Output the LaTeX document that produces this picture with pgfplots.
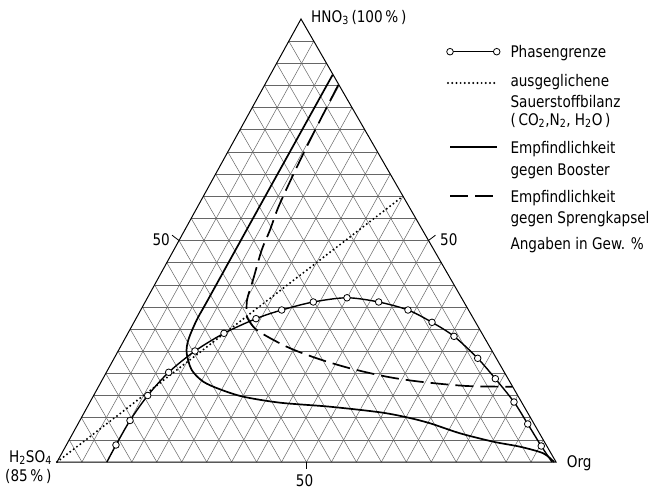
\documentclass[border=0pt]{standalone}
\usepackage{pgfplots}
\usepackage{pgfplotstable}
\pgfplotsset{compat=1.18}
\usepackage{fontspec}
\setmainfont{DejaVu Sans}[FakeStretch=0.85]

% ternary data: o = Org %, h = HNO3 %, H2SO4 = rest
\pgfplotstableread{
o h
10.0 0
9.94 3.84
10.05 9.37
10.84 15.01
12.48 20.25
15.4 25.06
19.26 29.05
24.06 32.35
28.25 34.31
33.7 36.12
39.99 37.07
46.8 36.12
53.56 34.31
59.73 31.53
65.69 28.37
72.86 23.41
78.65 18.80
84.96 13.54
90.14 8.58
95.28 3.61
99.2 0
}\phase

\pgfplotstableread{
o h
12.5 87.4
12.4 60
12.34 36.6
12.32 32.05
12.85 27.54
13.99 24.54
16.84 20.77
20.45 18.13
24.64 16.41
30.13 14.74
38.14 13.39
48.61 12.48
59.24 11.22
65.15 10.09
70.48 8.74
77.59 6.48
85.19 4.58
91.1 3.45
96.49 1.96
99.6 0
}\booster

\pgfplotstableread{
o h
14.75 85.1
15.24 71.17
16.13 58.4
17.08 52.37
17.62 47.86
19.19 41.08
20.2 36.57
21.98 32.8
}\kapselA

\pgfplotstableread{
o h
21.98 32.8
25.45 29.8
33.3 26.03
40.6 23.41
48.38 21.15
56.65 19.26
63.89 18.13
73.7 17.16
82.97 17.0
}\kapselB

\pgfplotstableread{
o h
0 0
40 60
}\sauerstoff

% ternary -> cartesian (apex slightly left of the base middle, as in the scan)
\def\tx{\thisrow{o}+0.489*\thisrow{h}}

\begin{document}
\begin{tikzpicture}[font=\fontsize{16}{19}\selectfont]
  \tikzset{
    gridl/.style={black!60, line width=0.5pt},
    dotl/.style={line width=2.2pt, line cap=round, dash pattern=on 0pt off 4.2pt},
    dashl/.style={line width=1.7pt, dash pattern=on 18pt off 7pt},
  }

  \begin{axis}[scale only axis, width=655pt, height=490pt,
               xmin=-11.423, xmax=119.84, ymin=-6.321, ymax=104.29,
               hide axis, clip=false]

    % GRID (every 5 %)
    \pgfplotsinvokeforeach{5,10,...,95}{
      \draw[gridl] (axis cs:{0.489*#1},#1) -- (axis cs:{100-#1+0.489*#1},#1);
      \draw[gridl] (axis cs:#1,0) -- (axis cs:{#1+0.489*(100-#1)},{100-#1});
      \draw[gridl] (axis cs:{100-#1},0) -- (axis cs:{0.489*(100-#1)},{100-#1});
    }
    \draw[line width=1pt] (axis cs:0,0) -- (axis cs:100,0) -- (axis cs:48.9,100) -- cycle;

    % ticks at 50
    \draw[line width=0.8pt] (axis cs:50,0) -- (axis cs:50,-1.6);
    \draw[line width=0.8pt] (axis cs:74.45,50) -- (axis cs:75.85,51.2);
    \draw[line width=0.8pt] (axis cs:24.45,50) -- (axis cs:23.05,51.2);

    % CURVES
    \addplot[dotl] table[x expr=\tx, y=h] {\sauerstoff};
    \addplot[line width=1.7pt, smooth] table[x expr=\tx, y=h] {\booster};
    \addplot[dashl, smooth] table[x expr=\tx, y=h] {\kapselA};
    \addplot[dashl, smooth] table[x expr=\tx, y=h] {\kapselB};
    \addplot[line width=1.4pt, smooth] table[x expr=\tx, y=h] {\phase};
    \addplot[only marks, mark=*, mark size=3.3pt,
             mark options={fill=white, draw=black, line width=0.8pt},
             skip coords between index={0}{1},
             skip coords between index={20}{21}] table[x expr=\tx, y=h] {\phase};

    % LEGEND
    \addplot[line width=1.4pt, mark=*, mark size=3.3pt,
             mark options={fill=white, draw=black, line width=0.8pt}]
      coordinates {(78.76,92.62) (88.12,92.62)};
    \addplot[dotl] coordinates {(78.36,85.55) (88.32,85.55)};
    \addplot[line width=1.7pt] coordinates {(78.76,71.17) (88.12,71.17)};
    \addplot[dashl] coordinates {(78.76,60.05) (88.12,60.05)};

    \node[anchor=base west] at (axis cs:90.18,91.35) {Phasengrenze};
    \node[anchor=base west] at (axis cs:90.18,84.72) {ausgeglichene};
    \node[anchor=base west] at (axis cs:90.18,80.07) {Sauerstoffbilanz};
    \node[anchor=base west] at (axis cs:90.18,76.07)
      {(\,CO\textsubscript{2},N\textsubscript{2}, H\textsubscript{2}O\,)};
    \node[anchor=base west] at (axis cs:90.18,69.68) {Empfindlichkeit};
    \node[anchor=base west] at (axis cs:90.18,64.56) {gegen Booster};
    \node[anchor=base west] at (axis cs:90.18,58.53) {Empfindlichkeit};
    \node[anchor=base west] at (axis cs:90.18,53.88) {gegen Sprengkapsel};
    \node[anchor=base west] at (axis cs:90.18,47.86) {Angaben in Gew. \%};

    % LABELS
    \node[anchor=base west, inner sep=0pt] at (axis cs:50.9,99.32)
      {HNO\textsubscript{3}\,(100\,\%\,)};
    \node[anchor=base west, inner sep=0pt] at (axis cs:-9.62,0)
      {H\textsubscript{2}SO\textsubscript{4}};
    \node[anchor=base west, inner sep=0pt] at (axis cs:-10.42,-4.29) {(85\,\%\,)};
    \node[anchor=base west, inner sep=0pt] at (axis cs:102.14,-1.35) {Org};
    \node[anchor=base, inner sep=0pt] at (axis cs:49.6,-5.64) {50};
    \node[anchor=base west, inner sep=0pt] at (axis cs:76.75,48.98) {50};
    \node[anchor=base east, inner sep=0pt] at (axis cs:22.65,48.76) {50};

    \path (axis cs:-11.423,-6.321) rectangle (axis cs:119.84,104.29);
  \end{axis}
\end{tikzpicture}
\end{document}
